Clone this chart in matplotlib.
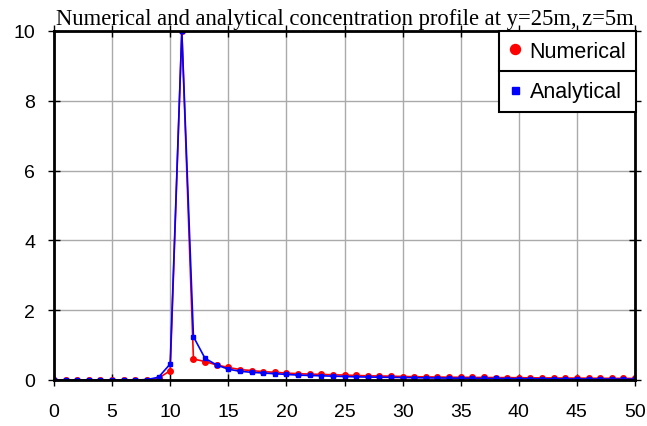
import numpy as np
import matplotlib.pyplot as plt
from matplotlib.lines import Line2D

# x positions (m)
x = list(range(0, 51))

# numerical concentration
numerical = [0.0, 0.0, 0.0, 0.0, 0.0, 0.0, 0.0, 0.0, 0.01, 0.05,
             0.27, 10.0, 0.60, 0.53, 0.43, 0.36, 0.30, 0.27, 0.24, 0.22,
             0.20, 0.18, 0.17, 0.16, 0.15, 0.14, 0.13, 0.12, 0.115, 0.11,
             0.10, 0.095, 0.09, 0.085, 0.08, 0.078, 0.075, 0.072, 0.07, 0.067,
             0.065, 0.062, 0.06, 0.058, 0.056, 0.054, 0.052, 0.05, 0.048, 0.046,
             0.045]

# analytical concentration
analytical = [0.0, 0.0, 0.0, 0.0, 0.0, 0.0, 0.0, 0.0, 0.01, 0.08,
              0.46, 10.0, 1.24, 0.62, 0.43, 0.31, 0.25, 0.22, 0.20, 0.18,
              0.16, 0.14, 0.13, 0.12, 0.11, 0.10, 0.09, 0.085, 0.08, 0.075,
              0.07, 0.065, 0.06, 0.057, 0.054, 0.051, 0.048, 0.045, 0.043, 0.041,
              0.039, 0.037, 0.035, 0.033, 0.031, 0.03, 0.029, 0.028, 0.027, 0.026,
              0.025]

xticks = list(range(0, 51, 5))
yticks = [0, 2, 4, 6, 8, 10]

fig = plt.figure(figsize=(6.47, 4.27), dpi=100)
ax = fig.add_axes([54/647, 1 - 381/427, 581/647, 349/427])

ax.plot(x, numerical, color='red', lw=1.2, marker='o', ms=4, label='Numerical')
ax.plot(x, analytical, color='blue', lw=1.2, marker='s', ms=2.8, label='Analytical')

ax.set_xlim(0, 50)
ax.set_ylim(0, 10)
ax.set_xticks(xticks)
ax.set_yticks(yticks)
ax.grid(True, color='#aaaaaa', lw=1)
ax.set_axisbelow(True)
for s in ax.spines.values():
    s.set_linewidth(2)
ax.tick_params(direction='inout', length=9, width=1, top=True, right=True,
               labelsize=14)
ax.tick_params(axis='x', pad=12)
ax.tick_params(axis='y', pad=9)
for lab in ax.get_xticklabels() + ax.get_yticklabels():
    lab.set_fontfamily('Liberation Sans')

ax.set_title('Numerical and analytical concentration profile at y=25m, z=5m',
             fontfamily='Liberation Serif', fontsize=16.3, pad=5)

leg = ax.legend(loc='upper right', bbox_to_anchor=(1.002, 1.0), fancybox=False,
                edgecolor='black', framealpha=1, borderaxespad=0,
                prop={'family': 'Liberation Sans', 'size': 15.5},
                handlelength=0.6, handletextpad=0.4, labelspacing=0.9,
                borderpad=0.45, markerscale=1.8)
leg.get_frame().set_linewidth(1.5)
for h in leg.legend_handles:
    h.set_linestyle('none')

fig.canvas.draw()
bb = leg.get_window_extent().transformed(ax.transAxes.inverted())
ymid = (bb.y0 + bb.y1) / 2
ax.add_line(Line2D([bb.x0, bb.x1], [ymid, ymid], transform=ax.transAxes,
                   color='black', lw=1.5, zorder=10, clip_on=False))

fig.savefig('out.png', dpi=100)
